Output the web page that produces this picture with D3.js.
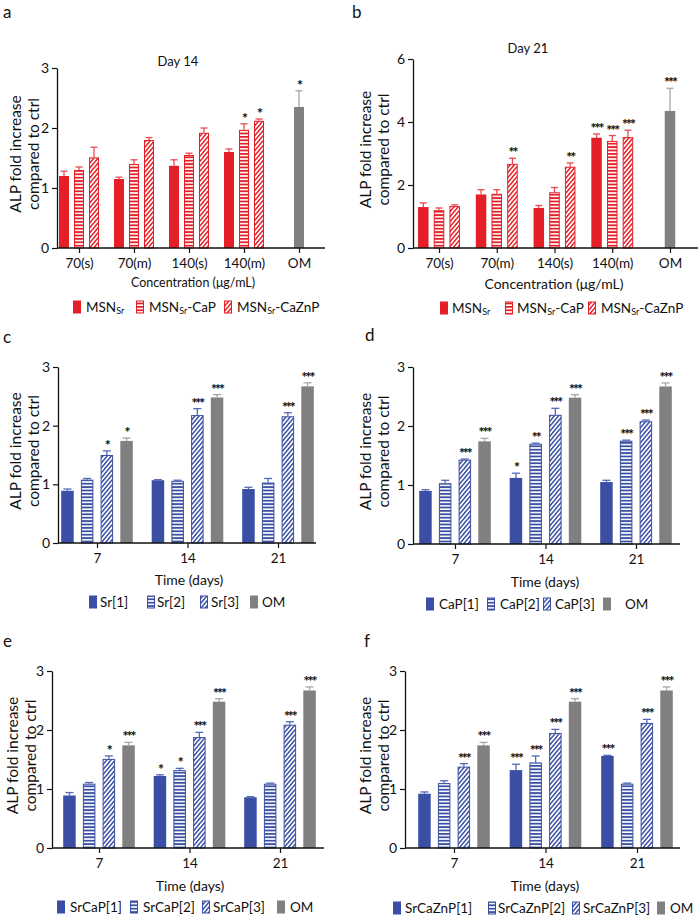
<!DOCTYPE html>
<html lang="en">
<head>
<meta charset="UTF-8">
<title>ALP fold increase</title>
<script src="https://d3js.org/d3.v7.min.js"></script>
<style>
  body { margin: 0; background: #fff; }
  svg { display: block; }
  text { font-family: Lato, "Open Sans", sans-serif; fill: #111; }
</style>
</head>
<body>
<svg id="fig" width="700" height="918"></svg>
<script>
/* ---------- data ---------- */
const concCats = ['70(s)', '70(m)', '140(s)', '140(m)', 'OM'];
const dayCats  = ['7', '14', '21'];

// panel a – day 14
const aMsnSr     = [1.20, 1.15, 1.37, 1.60, null];
const aMsnSrErr  = [0.08, 0.03, 0.10, 0.05, null];
const aCaP       = [1.30, 1.40, 1.55, 1.97, null];
const aCaPErr    = [0.05, 0.07, 0.03, 0.10, null];
const aCaPSig    = ['', '', '', '*', ''];
const aCaZnP     = [1.51, 1.80, 1.92, 2.12, null];
const aCaZnPErr  = [0.17, 0.04, 0.08, 0.03, null];
const aCaZnPSig  = ['', '', '', '*', ''];
const aOM        = [null, null, null, null, 2.35];
const aOMErr     = [null, null, null, null, 0.27];
const aOMSig     = ['', '', '', '', '*'];

// panel b – day 21
const bMsnSr     = [1.30, 1.70, 1.27, 3.50, null];
const bMsnSrErr  = [0.13, 0.15, 0.08, 0.12, null];
const bMsnSrSig  = ['', '', '', '***', ''];
const bCaP       = [1.20, 1.72, 1.77, 3.40, null];
const bCaPErr    = [0.07, 0.13, 0.15, 0.17, null];
const bCaPSig    = ['', '', '', '***', ''];
const bCaZnP     = [1.33, 2.67, 2.58, 3.52, null];
const bCaZnPErr  = [0.04, 0.18, 0.12, 0.22, null];
const bCaZnPSig  = ['', '**', '**', '***', ''];
const bOM        = [null, null, null, null, 4.35];
const bOMErr     = [null, null, null, null, 0.72];
const bOMSig     = ['', '', '', '', '***'];

// osteogenic medium control, shared by c–f
const omTime     = [1.74, 2.48, 2.67];
const omTimeErr  = [0.05, 0.05, 0.06];

// panel c
const sr1 = [0.89, 1.07, 0.92], sr1Err = [0.03, 0.01, 0.03];
const sr2 = [1.08, 1.06, 1.03], sr2Err = [0.02, 0.01, 0.07];
const sr3 = [1.50, 2.18, 2.16], sr3Err = [0.07, 0.11, 0.06];
const sr3Sig  = ['*', '***', '***'];
const cOMSig  = ['*', '***', '***'];

// panel d
const cap1 = [0.90, 1.12, 1.05], cap1Err = [0.02, 0.08, 0.03];
const cap2 = [1.03, 1.70, 1.75], cap2Err = [0.05, 0.01, 0.01];
const cap3 = [1.43, 2.19, 2.08], cap3Err = [0.01, 0.11, 0.02];
const cap1Sig = ['', '*', ''];
const cap2Sig = ['', '**', '***'];
const cap3Sig = ['***', '***', '***'];
const dOMSig  = ['***', '***', '***'];

// panel e
const srcap1 = [0.89, 1.22, 0.86], srcap1Err = [0.05, 0.02, 0.01];
const srcap2 = [1.09, 1.32, 1.09], srcap2Err = [0.02, 0.03, 0.01];
const srcap3 = [1.51, 1.88, 2.09], srcap3Err = [0.05, 0.08, 0.05];
const srcap1Sig = ['', '*', ''];
const srcap2Sig = ['', '*', ''];
const srcap3Sig = ['*', '***', '***'];
const eOMSig    = ['***', '***', '***'];

// panel f
const srcaznp1 = [0.92, 1.32, 1.56], srcaznp1Err = [0.03, 0.10, 0.01];
const srcaznp2 = [1.10, 1.45, 1.09], srcaznp2Err = [0.04, 0.11, 0.01];
const srcaznp3 = [1.38, 1.95, 2.12], srcaznp3Err = [0.05, 0.06, 0.06];
const srcaznp1Sig = ['', '***', '***'];
const srcaznp2Sig = ['', '***', ''];
const srcaznp3Sig = ['***', '***', '***'];
const fOMSig      = ['***', '***', '***'];

/* ---------- colours / patterns ---------- */
const RED = '#e51f27', BLUE = '#3a4fa3', GREY = '#808080';
const errCol = { [RED]: '#ea4a50', [BLUE]: '#5468b8', [GREY]: '#a6a6a6' };

const svg = d3.select('#fig');
const defs = svg.append('defs');

function makePatterns(col, key) {
  const h = defs.append('pattern').attr('id', 'hs-' + key)
    .attr('patternUnits', 'userSpaceOnUse').attr('width', 6).attr('height', 3.4);
  h.append('rect').attr('width', 6).attr('height', 3.4).attr('fill', '#fff');
  h.append('rect').attr('width', 6).attr('height', 1.8).attr('fill', col);

  const d = defs.append('pattern').attr('id', 'dg-' + key)
    .attr('patternUnits', 'userSpaceOnUse').attr('width', 3.2).attr('height', 6)
    .attr('patternTransform', 'rotate(40)');
  d.append('rect').attr('width', 3.2).attr('height', 6).attr('fill', '#fff');
  d.append('rect').attr('width', 1.5).attr('height', 6).attr('fill', col);
}
makePatterns(RED, 'red');
makePatterns(BLUE, 'blue');

function fillFor(kind, col) {
  const key = col === RED ? 'red' : 'blue';
  if (kind === 'h') return `url(#hs-${key})`;
  if (kind === 'd') return `url(#dg-${key})`;
  return col;
}

/* ---------- panel drawing ---------- */
function drawPanel(p) {
  const g = svg.append('g');
  const y = d3.scaleLinear().domain([0, p.yMax]).range([p.bottom, p.top]);
  const x = d3.scalePoint().domain(p.cats).range([p.c0, p.c1]);

  // bars
  p.cats.forEach((c, i) => {
    const present = p.series.filter(s => s.values[i] != null);
    const n = present.length;
    const f = p.bw / p.step;
    const inner = d3.scaleBand().domain(present.map(s => s.name))
      .range([x(c) - n * p.step / 2, x(c) + n * p.step / 2])
      .paddingInner(1 - f).paddingOuter((1 - f) / 2);

    present.forEach(s => {
      const v = s.values[i], e = s.err[i];
      const bx = inner(s.name), bw = inner.bandwidth();
      const cx = bx + bw / 2;
      const hatched = s.kind !== 's';
      g.append('rect')
        .attr('x', hatched ? bx + 0.5 : bx)
        .attr('y', hatched ? y(v) + 0.5 : y(v))
        .attr('width', hatched ? bw - 1 : bw)
        .attr('height', hatched ? y(0) - y(v) - 0.5 : y(0) - y(v))
        .attr('fill', fillFor(s.kind, s.color))
        .attr('stroke', hatched ? s.color : 'none')
        .attr('stroke-width', 1);
      if (e) {
        const yt = y(v + e);
        g.append('line').attr('x1', cx).attr('x2', cx).attr('y1', y(v)).attr('y2', yt)
          .attr('stroke', errCol[s.color]).attr('stroke-width', 1.3);
        g.append('line').attr('x1', cx - p.cap / 2).attr('x2', cx + p.cap / 2)
          .attr('y1', yt).attr('y2', yt)
          .attr('stroke', errCol[s.color]).attr('stroke-width', 1.3);
      }
      const sig = s.sig ? s.sig[i] : '';
      if (sig) {
        g.append('text').attr('x', cx).attr('y', y(v + (e || 0)) - 1)
          .attr('text-anchor', 'middle').attr('font-size', 14).attr('font-weight', 900)
          .attr('letter-spacing', -2)
          .text(sig);
      }
    });
  });

  // y axis
  const gy = g.append('g').attr('transform', `translate(${p.left},0)`)
    .call(d3.axisLeft(y).tickValues(p.yTicks).tickFormat(d3.format('d'))
      .tickSize(5).tickSizeOuter(0).tickPadding(3));
  gy.select('.domain').attr('stroke', '#111').attr('stroke-width', 1.3);
  gy.selectAll('.tick line').attr('stroke', '#111').attr('stroke-width', 1.2);
  gy.selectAll('.tick text').attr('font-size', 14).attr('font-family', 'Lato, sans-serif').attr('fill', '#111');

  // x axis
  const gx = g.append('g').attr('transform', `translate(0,${p.bottom})`)
    .call(d3.axisBottom(x).tickSize(5).tickPadding(5));
  gx.select('.domain').remove();
  gx.selectAll('.tick line').attr('stroke', '#111').attr('stroke-width', 1.2);
  gx.selectAll('.tick text').attr('font-size', 13.5).attr('font-family', 'Lato, sans-serif').attr('fill', '#111');
  g.append('line').attr('x1', p.left).attr('x2', p.right)
    .attr('y1', p.bottom).attr('y2', p.bottom)
    .attr('stroke', '#111').attr('stroke-width', 1.3);

  // y title
  const ymid = (p.top + p.bottom) / 2 - 4;
  [['ALP fold increase', p.left - p.yt1], ['compared to ctrl', p.left - p.yt2]].forEach(([t, xx]) => {
    g.append('text').attr('transform', `translate(${xx},${ymid}) rotate(-90)`)
      .attr('text-anchor', 'middle').attr('dominant-baseline', 'central')
      .attr('font-size', 15.5).text(t);
  });

  // x title
  g.append('text').attr('x', p.xtX).attr('y', p.xtY).attr('text-anchor', 'middle')
    .attr('dominant-baseline', 'central').attr('font-size', p.xtSize || 14).text(p.xTitle);

  if (p.title) {
    g.append('text').attr('x', p.title[1]).attr('y', p.title[2]).attr('text-anchor', 'middle')
      .attr('dominant-baseline', 'central').attr('font-size', 13).text(p.title[0]);
  }

  // panel letter
  g.append('text').attr('x', p.letter[1]).attr('y', p.letter[2])
    .attr('font-size', 17).text(p.letter[0]);

  // legend
  p.series.filter(s => s.label).forEach((s, k) => {
    const lx = p.legX[k];
    const gap = p.legGap ? p.legGap[k] : 13;
    const hatched = s.kind !== 's';
    g.append('rect')
      .attr('x', hatched ? lx + 0.5 : lx).attr('y', p.legY - 6.5 + (hatched ? 0.5 : 0))
      .attr('width', hatched ? 7 : 8).attr('height', hatched ? 12 : 13)
      .attr('fill', fillFor(s.kind, s.color))
      .attr('stroke', hatched ? s.color : 'none');
    const t = g.append('text').attr('x', lx + gap).attr('y', p.legY)
      .attr('dominant-baseline', 'central').attr('font-size', 13.5);
    s.label.forEach((part, j) => {
      if (j % 2 === 1) {
        t.append('tspan').attr('font-size', 9).attr('dy', 3).text(part);
      } else {
        t.append('tspan').attr('dy', j > 0 ? -3 : 0).text(part);
      }
    });
  });
}

/* ---------- panels ---------- */
drawPanel({
  cats: concCats, yMax: 3, yTicks: [0, 1, 2, 3],
  left: 57, right: 325, top: 68, bottom: 248, c0: 79, c1: 299, step: 15, bw: 10, cap: 7,
  yt1: 42, yt2: 24, xTitle: 'Concentration (μg/mL)', xtX: 193, xtY: 282, xtSize: 12.5,
  title: ['Day 14', 178, 61], letter: ['a', 3, 18], legY: 307, legX: [73, 136, 224],
  series: [
    { name: 'MSNSr', values: aMsnSr, err: aMsnSrErr, kind: 's', color: RED, label: ['MSN', 'Sr'] },
    { name: 'MSNSr-CaP', values: aCaP, err: aCaPErr, sig: aCaPSig, kind: 'h', color: RED, label: ['MSN', 'Sr', '-CaP'] },
    { name: 'MSNSr-CaZnP', values: aCaZnP, err: aCaZnPErr, sig: aCaZnPSig, kind: 'd', color: RED, label: ['MSN', 'Sr', '-CaZnP'] },
    { name: 'OM', values: aOM, err: aOMErr, sig: aOMSig, kind: 's', color: GREY, label: null }
  ]
});

drawPanel({
  cats: concCats, yMax: 6, yTicks: [0, 2, 4, 6],
  left: 413, right: 698, top: 59, bottom: 248, c0: 439, c1: 670, step: 15.7, bw: 10.5, cap: 7,
  yt1: 48, yt2: 30, xTitle: 'Concentration (μg/mL)', xtX: 554, xtY: 283, xtSize: 14,
  title: ['Day 21', 528, 48], letter: ['b', 352, 18], legY: 308, legX: [440, 505, 588], legGap: [12, 12, 13],
  series: [
    { name: 'MSNSr', values: bMsnSr, err: bMsnSrErr, sig: bMsnSrSig, kind: 's', color: RED, label: ['MSN', 'Sr'] },
    { name: 'MSNSr-CaP', values: bCaP, err: bCaPErr, sig: bCaPSig, kind: 'h', color: RED, label: ['MSN', 'Sr', '-CaP'] },
    { name: 'MSNSr-CaZnP', values: bCaZnP, err: bCaZnPErr, sig: bCaZnPSig, kind: 'd', color: RED, label: ['MSN', 'Sr', '-CaZnP'] },
    { name: 'OM', values: bOM, err: bOMErr, sig: bOMSig, kind: 's', color: GREY, label: null }
  ]
});

drawPanel({
  cats: dayCats, yMax: 3, yTicks: [0, 1, 2, 3],
  left: 58, right: 316, top: 367, bottom: 543, c0: 97, c1: 278, step: 19.7, bw: 12.5, cap: 8,
  yt1: 43, yt2: 25, xTitle: 'Time (days)', xtX: 189, xtY: 579,
  letter: ['c', 3, 343], legY: 602, legX: [89, 147, 200, 250], legGap: [11, 10, 11, 12],
  series: [
    { name: 'Sr[1]', values: sr1, err: sr1Err, kind: 's', color: BLUE, label: ['Sr[1]'] },
    { name: 'Sr[2]', values: sr2, err: sr2Err, kind: 'h', color: BLUE, label: ['Sr[2]'] },
    { name: 'Sr[3]', values: sr3, err: sr3Err, sig: sr3Sig, kind: 'd', color: BLUE, label: ['Sr[3]'] },
    { name: 'OM', values: omTime, err: omTimeErr, sig: cOMSig, kind: 's', color: GREY, label: ['OM'] }
  ]
});

drawPanel({
  cats: dayCats, yMax: 3, yTicks: [0, 1, 2, 3],
  left: 413, right: 680, top: 367, bottom: 544, c0: 455, c1: 636, step: 19.7, bw: 12.5, cap: 8,
  yt1: 48, yt2: 30, xTitle: 'Time (days)', xtX: 545, xtY: 581,
  letter: ['d', 365, 341], legY: 604, legX: [426, 487, 543, 603], legGap: [13, 13, 12, 22],
  series: [
    { name: 'CaP[1]', values: cap1, err: cap1Err, sig: cap1Sig, kind: 's', color: BLUE, label: ['CaP[1]'] },
    { name: 'CaP[2]', values: cap2, err: cap2Err, sig: cap2Sig, kind: 'h', color: BLUE, label: ['CaP[2]'] },
    { name: 'CaP[3]', values: cap3, err: cap3Err, sig: cap3Sig, kind: 'd', color: BLUE, label: ['CaP[3]'] },
    { name: 'OM', values: omTime, err: omTimeErr, sig: dOMSig, kind: 's', color: GREY, label: ['OM'] }
  ]
});

drawPanel({
  cats: dayCats, yMax: 3, yTicks: [0, 1, 2, 3],
  left: 52, right: 324, top: 671, bottom: 848, c0: 99, c1: 280, step: 19.7, bw: 12.5, cap: 8,
  yt1: 40, yt2: 22, xTitle: 'Time (days)', xtX: 190, xtY: 885,
  letter: ['e', 3, 647], legY: 907, legX: [57, 130, 202, 277], legGap: [13, 13, 11, 13],
  series: [
    { name: 'SrCaP[1]', values: srcap1, err: srcap1Err, sig: srcap1Sig, kind: 's', color: BLUE, label: ['SrCaP[1]'] },
    { name: 'SrCaP[2]', values: srcap2, err: srcap2Err, sig: srcap2Sig, kind: 'h', color: BLUE, label: ['SrCaP[2]'] },
    { name: 'SrCaP[3]', values: srcap3, err: srcap3Err, sig: srcap3Sig, kind: 'd', color: BLUE, label: ['SrCaP[3]'] },
    { name: 'OM', values: omTime, err: omTimeErr, sig: eOMSig, kind: 's', color: GREY, label: ['OM'] }
  ]
});

drawPanel({
  cats: dayCats, yMax: 3, yTicks: [0, 1, 2, 3],
  left: 405, right: 680, top: 671, bottom: 848, c0: 454, c1: 637, step: 19.7, bw: 12.5, cap: 8,
  yt1: 40, yt2: 22, xTitle: 'Time (days)', xtX: 545, xtY: 885,
  letter: ['f', 364, 647], legY: 908, legX: [393, 488, 572, 657], legGap: [12, 10, 11, 13],
  series: [
    { name: 'SrCaZnP[1]', values: srcaznp1, err: srcaznp1Err, sig: srcaznp1Sig, kind: 's', color: BLUE, label: ['SrCaZnP[1]'] },
    { name: 'SrCaZnP[2]', values: srcaznp2, err: srcaznp2Err, sig: srcaznp2Sig, kind: 'h', color: BLUE, label: ['SrCaZnP[2]'] },
    { name: 'SrCaZnP[3]', values: srcaznp3, err: srcaznp3Err, sig: srcaznp3Sig, kind: 'd', color: BLUE, label: ['SrCaZnP[3]'] },
    { name: 'OM', values: omTime, err: omTimeErr, sig: fOMSig, kind: 's', color: GREY, label: ['OM'] }
  ]
});
</script>
</body>
</html>
